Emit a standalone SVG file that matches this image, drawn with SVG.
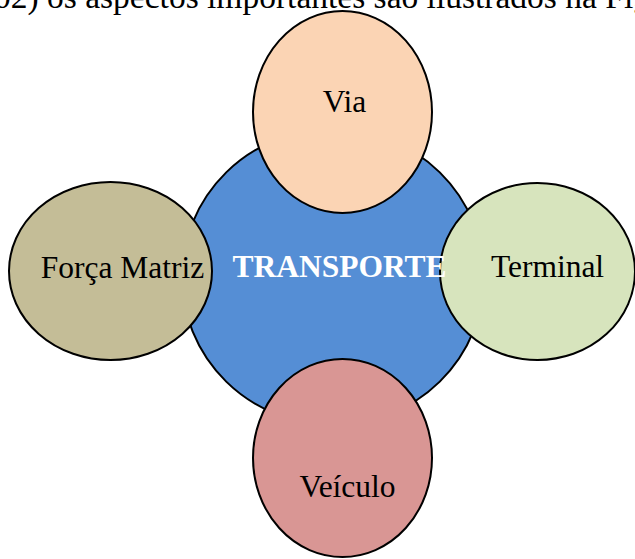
<svg xmlns="http://www.w3.org/2000/svg" width="635" height="559" viewBox="0 0 635 559">
<style>
.node { stroke: #000; stroke-width: 2; }
.lbl { font-family: "Liberation Serif", "Times New Roman", serif; font-size: 31.5px; fill: #000; text-anchor: middle; }
.hub { font-family: "Liberation Serif", "Times New Roman", serif; font-size: 31.5px; font-weight: bold; fill: #fff; text-anchor: middle; }
.body { font-family: "Liberation Serif", "Times New Roman", serif; font-size: 33.5px; fill: #000; }
</style>
<rect width="635" height="559" fill="#fff"/>
<text class="body" x="-6" y="8">02) os aspectos importantes são ilustrados na Figura</text>
<g id="transporte">
<ellipse class="node" cx="333" cy="277" rx="151" ry="148" fill="#558ED5"/>
</g>
<g id="connectors"></g>
<g id="via">
<ellipse class="node" cx="342.5" cy="112" rx="89.5" ry="101" fill="#FBD4B4"/>
<text class="lbl" x="344.5" y="112">Via</text>
</g>
<g id="forca-matriz">
<ellipse class="node" cx="110.5" cy="271" rx="101.5" ry="89" fill="#C4BD97"/>
<text class="lbl" x="122.5" y="278">Força Matriz</text>
</g>
<g id="terminal">
<ellipse class="node" cx="537.5" cy="271.5" rx="97.5" ry="88.5" fill="#D7E4BD"/>
<text class="lbl" x="547.5" y="277">Terminal</text>
</g>
<g id="veiculo">
<ellipse class="node" cx="342.5" cy="458" rx="89.5" ry="99" fill="#D99694"/>
<text class="lbl" x="347.5" y="497">Veículo</text>
</g>
<g id="transporte-label">
<text class="hub" x="339.5" y="277">TRANSPORTE</text>
</g>
</svg>
